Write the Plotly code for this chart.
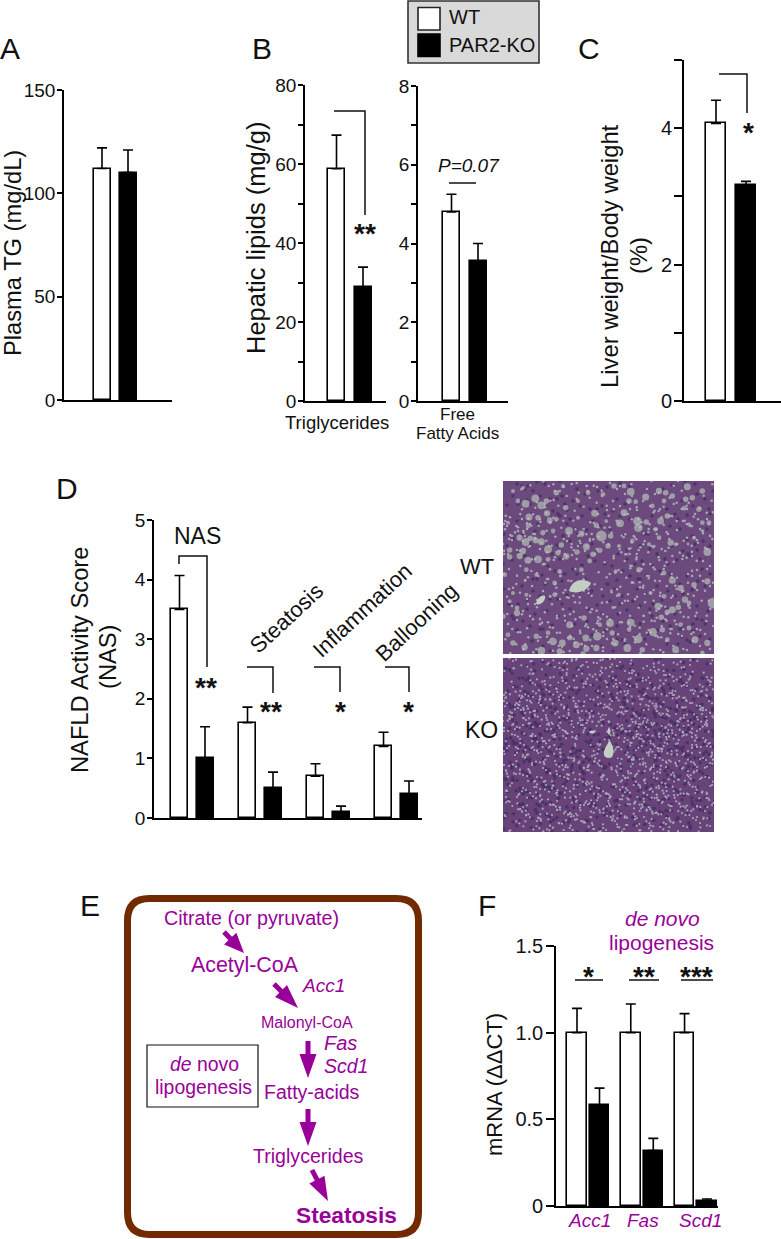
import plotly.graph_objects as go

# ---------- chart values ----------
a_cats = ["Plasma TG"]
a_wt, a_wt_top = [112], [122]
a_ko, a_ko_top = [110], [121]

b1_cats = ["Triglycerides"]
b1_wt, b1_wt_top = [58.8], [67.3]
b1_ko, b1_ko_top = [28.8], [33.9]

b2_cats = ["Free Fatty Acids"]
b2_wt, b2_wt_top = [4.8], [5.25]
b2_ko, b2_ko_top = [3.55], [4.0]

c_cats = ["Liver/Body"]
c_wt, c_wt_top = [4.07], [4.41]
c_ko, c_ko_top = [3.17], [3.22]

d_cats = ["NAS", "Steatosis", "Inflammation", "Ballooning"]
d_wt, d_wt_top = [3.5, 1.6, 0.7, 1.2], [4.07, 1.86, 0.91, 1.44]
d_ko, d_ko_top = [1.0, 0.5, 0.1, 0.4], [1.53, 0.77, 0.2, 0.62]

f_cats = ["Acc1", "Fas", "Scd1"]
f_wt, f_wt_top = [1.0, 1.0, 1.0], [1.14, 1.165, 1.11]
f_ko, f_ko_top = [0.58, 0.32, 0.03], [0.68, 0.39, 0.04]

# Micrograph features (x, y, radius in crop units)
wt_tile_a = [(97,52,9),(115,73,9),(130,60,6),(68,68,9),(45,60,5),(78,108,8),(105,110,6),(132,97,7),(140,118,7),(160,115,5),(198,150,9),(295,165,13),(235,158,7),(275,97,8),(280,133,6),(68,183,9),(50,170,7),(82,172,6),(98,178,7),(115,182,8),(135,205,9),(175,192,6),(250,197,8),(290,208,6),(60,210,7),(20,207,6),(105,235,9),(75,238,8),(50,225,7),(20,228,6),(165,215,6),(190,226,7),(222,213,6),(270,220,6),(315,195,6),(15,125,4),(160,35,6),(188,80,6),(255,35,5),(225,60,4),(120,155,6),(150,150,5),(75,135,5),(135,235,5),(260,240,5),(30,30,4),(60,20,4),(180,15,4),(300,40,5),(310,120,4),(225,110,4)]
wt_tile_b = [(65,32,9),(110,48,8),(150,30,7),(170,35,6),(190,45,6),(235,17,8),(280,30,6),(45,95,8),(85,120,10),(88,140,10),(33,127,9),(112,123,6),(155,120,8),(175,105,6),(60,60,6),(80,62,5),(130,75,5),(230,55,6),(270,85,6),(250,50,6),(165,60,5),(225,82,5),(15,15,6),(45,15,5),(5,165,6),(185,185,7),(295,213,9),(150,170,5),(70,180,5),(240,130,4),(280,125,5),(300,125,5),(200,190,4),(140,145,5),(120,190,4),(255,170,4),(30,195,4)]
wt_tile_c = [(42,135,7),(42,120,5),(0,145,6),(200,170,8),(243,150,6),(150,220,9),(178,225,8),(220,230,8),(248,210,8),(283,205,10),(115,248,9),(65,238,7),(30,225,6),(170,250,7),(250,242,7),(280,240,7),(15,200,5),(100,205,6),(200,210,5),(5,20,5),(70,5,5),(155,80,5),(155,45,5),(290,170,5),(135,195,5),(240,258,6),(100,20,4),(30,75,4),(70,80,4),(170,10,5),(20,100,4),(235,5,5)]
wt_tile_d = [(190,37,8),(165,15,5),(90,5,6),(215,60,7),(255,50,6),(295,40,7),(228,95,7),(147,115,8),(190,125,8),(175,132,6),(208,118,6),(165,85,5),(3,165,9),(65,163,9),(157,148,6),(132,192,9),(88,213,10),(18,225,8),(55,240,9),(160,185,6),(200,245,8),(258,215,8),(295,225,7),(215,170,5),(240,105,5),(20,10,4),(60,185,5),(100,245,6),(10,195,6),(280,255,5),(175,215,5),(240,180,5),(312,105,13),(125,75,4),(30,80,4)]
wt_dark = [(10,15),(30,10),(50,30),(70,20),(90,40),(25,45),(60,55),(110,30),(130,60),(160,40),(190,25),(15,70),(45,85),(85,75),(120,90),(150,85),(180,70),(200,60),(30,110),(70,105),(100,115),(130,120),(165,110),(195,100),(20,140),(55,135),(95,145),(125,150),(160,140),(190,150),(40,165),(110,170),(175,168),(205,130)]
ko_light = [(95,170),(40,135),(45,150),(230,180),(225,195),(400,175),(425,180),(487,210),(618,130),(600,150),(365,240),(370,290),(230,365),(85,270),(120,330),(160,320),(205,300),(275,310),(350,205),(530,215),(555,305),(560,380),(470,300),(440,395),(410,440),(455,420),(520,430),(490,480),(345,460),(280,450),(250,430),(195,470),(150,440),(90,415),(40,490),(540,120),(585,185),(500,105),(440,130),(365,100),(305,140),(250,160),(175,140),(130,95),(90,100),(60,180),(170,210),(120,250),(30,320),(60,390),(330,380),(375,340),(505,350),(600,300),(610,420),(570,480),(430,490),(300,510),(200,510),(100,505),(260,50),(330,60),(420,60),(500,50),(590,80),(170,30),(400,235),(455,265),(180,385),(300,400),(600,240),(420,320)]
ko_dark = [(65,100),(105,130),(180,180),(90,240),(140,280),(30,250),(60,340),(120,380),(170,350),(210,420),(250,300),(410,100),(470,135),(530,70),(560,160),(505,190),(420,240),(465,240),(540,290),(590,340),(515,395),(450,360),(400,300),(360,400),(300,450),(130,470),(50,440),(370,70),(280,100),(200,90),(470,460),(570,440),(420,190),(335,210),(250,250),(60,60),(620,260),(20,180)]
# shifts used to repeat the hand-read flecks so the tissue grain is dense enough
grain_shifts = [(0, 0), (7, 5), (-6, 9), (12, -7), (-11, -5), (4, -12), (17, 8), (-15, 13)]
grain_shifts_fine = [(3, 2), (23, -3), (-3, 21), (31, 17), (-27, 6), (14, 33), (-19, -23), (41, -11), (9, 47), (-37, 29)]

# ---------- page ----------
W, H = 781, 1239
FONT = "Liberation Sans"
INK = "#111111"
PURPLE = "#990099"
BROWN = "#722b00"

fig = go.Figure()
layout = dict(
    width=W, height=H, margin=dict(l=0, r=0, t=0, b=0, pad=0, autoexpand=False),
    paper_bgcolor="white", plot_bgcolor="rgba(0,0,0,0)",
    showlegend=False, bargap=0, barmode="overlay",
    font=dict(family=FONT, color=INK),
    xaxis=dict(domain=[0, 1], range=[0, W], visible=False, fixedrange=True),
    yaxis=dict(domain=[0, 1], range=[H, 0], visible=False, fixedrange=True),
)
shapes, annos = [], []


def text(x, y, s, size, color=INK, angle=0, anchor="center"):
    annos.append(dict(x=x, y=y, xref="x", yref="y", text=s, showarrow=False,
                      xanchor=anchor, yanchor="middle", textangle=angle,
                      font=dict(family=FONT, size=size, color=color),
                      borderpad=0, borderwidth=0))


def line(pts, width=1.5, color=INK):
    d = "M " + " L ".join(f"{x} {y}" for x, y in pts)
    shapes.append(dict(type="path", path=d, xref="x", yref="y",
                       line=dict(color=color, width=width)))


def arrow(x0, y0, x1, y1, stem=5, head_w=17, head_l=24, color=PURPLE):
    dx, dy = x1 - x0, y1 - y0
    n = (dx * dx + dy * dy) ** 0.5
    ux, uy = dx / n, dy / n
    px, py = -uy, ux
    bx, by = x1 - ux * head_l, y1 - uy * head_l
    pts = [(x0 + px * stem / 2, y0 + py * stem / 2),
           (bx + px * stem / 2, by + py * stem / 2),
           (bx + px * head_w / 2, by + py * head_w / 2),
           (x1, y1),
           (bx - px * head_w / 2, by - py * head_w / 2),
           (bx - px * stem / 2, by - py * stem / 2),
           (x0 - px * stem / 2, y0 - py * stem / 2)]
    d = "M " + " L ".join(f"{a:.1f} {b:.1f}" for a, b in pts) + " Z"
    shapes.append(dict(type="path", path=d, xref="x", yref="y",
                       fillcolor=color, line=dict(width=0)))


def panel(n, cats, wt, wt_top, ko, ko_top, rect, first, pitch, step, bar_w,
          ymax, tickvals, ticktext, ticklen=5, tick_size=19, standoff=-2):
    """rect is (left, top, right, bottom) in page pixels; step in bar pitches."""
    L, T, R, B = rect
    xa, ya = f"x{n}", f"y{n}"
    idx = list(range(len(cats)))
    xw = [i * step for i in idx]
    xk = [i * step + 1 for i in idx]
    bw = bar_w / pitch
    for xs, vals, tops, col, name in ((xw, wt, wt_top, "white", "WT"),
                                      (xk, ko, ko_top, "black", "PAR2-KO")):
        fig.add_trace(go.Bar(
            x=xs, y=vals, width=bw, name=name, xaxis=xa, yaxis=ya,
            marker=dict(color=col, line=dict(color="black", width=1.6)),
            error_y=dict(type="data", symmetric=False,
                         array=[t - v for t, v in zip(tops, vals)],
                         arrayminus=[0] * len(vals),
                         color="black", thickness=1.6, width=5),
        ))
    layout[f"xaxis{n}"] = dict(
        domain=[L / W, R / W], range=[(L - first) / pitch, (R - first) / pitch],
        anchor=ya, showline=True, linecolor="black", linewidth=1.6,
        showticklabels=False, ticks="", showgrid=False, zeroline=False, fixedrange=True)
    layout[f"yaxis{n}"] = dict(
        domain=[1 - B / H, 1 - T / H], range=[0, ymax],
        anchor=xa, showline=True, linecolor="black", linewidth=1.6,
        tickmode="array", tickvals=tickvals, ticktext=ticktext,
        ticks="outside", ticklen=ticklen, tickwidth=1.6, tickcolor="black",
        ticklabelstandoff=standoff,
        tickfont=dict(family=FONT, size=tick_size, color=INK),
        showgrid=False, zeroline=False, fixedrange=True)


def micro_axes(n, box, fill):
    L, T, R, B = box
    layout[f"xaxis{n}"] = dict(domain=[L / W, R / W], range=[L, R], anchor=f"y{n}",
                               visible=False, fixedrange=True)
    layout[f"yaxis{n}"] = dict(domain=[1 - B / H, 1 - T / H], range=[B, T], anchor=f"x{n}",
                               visible=False, fixedrange=True)
    shapes.append(dict(type="rect", xref=f"x{n}", yref=f"y{n}", layer="below", x0=L, y0=T,
                       x1=R, y1=B, fillcolor=fill, line=dict(width=0)))


def grain(n, box, pts, color, size, name, shifts=grain_shifts):
    L, T, R, B = box
    w, h = R - L, B - T
    xs, ys = [], []
    for sx, sy in shifts:
        for a, b in pts:
            xs.append(L + (a + sx) % w)
            ys.append(T + (b + sy) % h)
    fig.add_trace(go.Scatter(x=xs, y=ys, mode="markers", xaxis=f"x{n}", yaxis=f"y{n}", name=name,
                             marker=dict(color=color, size=size, line=dict(width=0)),
                             hoverinfo="skip"))


# ---------- bar panels ----------
panel(2, a_cats, a_wt, a_wt_top, a_ko, a_ko_top, (64, 90, 172, 400), 102, 26, 2.5, 17,
      150, [0, 50, 100, 150], ["0", "50", "100", "150"])
panel(3, b1_cats, b1_wt, b1_wt_top, b1_ko, b1_ko_top, (305, 85, 386, 401), 336.5, 26.5, 2.5, 17,
      80, [0, 10, 20, 30, 40, 50, 60, 70, 80], ["0", "", "20", "", "40", "", "60", "", "80"])
panel(4, b2_cats, b2_wt, b2_wt_top, b2_ko, b2_ko_top, (418, 86, 508, 401), 451.5, 26.5, 2.5, 17,
      8, list(range(9)), ["0", "", "2", "", "4", "", "6", "", "8"])
panel(5, c_cats, c_wt, c_wt_top, c_ko, c_ko_top, (684, 60, 781, 401), 716, 30, 2.5, 20,
      5, [0, 1, 2, 3, 4, 5], ["0", "", "2", "", "4", ""], ticklen=8, tick_size=20)
panel(6, d_cats, d_wt, d_wt_top, d_ko, d_ko_top, (154, 520, 422, 818), 179.5, 25.5, 2.667, 17,
      5, [0, 1, 2, 3, 4, 5], ["0", "1", "2", "3", "4", "5"])
panel(7, f_cats, f_wt, f_wt_top, f_ko, f_ko_top, (556, 946, 718, 1206), 577, 22.5, 2.39, 19.5,
      1.5, [0, 0.5, 1.0, 1.5], ["0", "0.5", "1.0", "1.5"], ticklen=8, tick_size=20, standoff=-1)

# ---------- micrographs ----------
WT_BOX = (503, 481, 714, 654)
KO_BOX = (503, 658, 714, 832)
micro_axes(8, WT_BOX, "#6c4a7d")
micro_axes(9, KO_BOX, "#68437a")

CELL = "#b5c0b7"
grain(8, WT_BOX, wt_dark, "#4d3468", 3.5, "WT nuclei")
grain(8, WT_BOX, [(a / 3, b / 3) for a, b in ko_light], "#a7a6b3", 2.5, "WT gaps")
dx, dy, ds = [], [], []
for tile, ox, oy in ((wt_tile_a, 503, 481), (wt_tile_b, 609, 481),
                     (wt_tile_c, 503, 568), (wt_tile_d, 609, 568)):
    for a, b, r in tile:
        dx.append(ox + a / 3)
        dy.append(oy + b / 3)
        ds.append(r * 0.75 + 1)
fig.add_trace(go.Scatter(x=dx, y=dy, mode="markers", xaxis="x8", yaxis="y8", name="WT droplets",
                         marker=dict(color=CELL, size=ds, line=dict(width=0)), hoverinfo="skip"))
grain(9, KO_BOX, [(a / 3, b / 3) for a, b in ko_dark], "#4b3167", 3.5, "KO nuclei", grain_shifts + grain_shifts_fine)
grain(9, KO_BOX, [(a / 3, b / 3) for a, b in ko_light], "#aaa8b6", 2.2, "KO gaps", grain_shifts + grain_shifts_fine)
for p in ("M 569 591 C 572 578 585 578 591 583 C 588 590 578 595 569 591 Z",
          "M 536 604 C 537 597 543 594 545 596 C 546 600 541 606 536 604 Z",
          "M 609.5 740.5 C 613 745 615 753 612 757 C 609 759 605 758 604 755 C 603 750 607 745 609.5 740.5 Z",
          "M 609 727 C 611 730 611 733 609 735 C 607 733 607 730 609 727 Z",
          "M 589 732 C 591 730 594 730 595 732 C 594 734 591 734 589 732 Z"):
    shapes.append(dict(type="path", path=p, xref="x", yref="y", fillcolor="#c3cec5", line=dict(width=0)))

# ---------- panel letters ----------
for s, x, y in (("A", 10, 48), ("B", 262, 48), ("C", 589, 48),
                ("D", 67, 488), ("E", 90, 905), ("F", 487, 905)):
    text(x, y, s, 30)

# ---------- legend ----------
shapes.append(dict(type="rect", xref="x", yref="y", x0=408, y0=1, x1=539, y1=63,
                   fillcolor="#d9d9d9", line=dict(color="#333333", width=1.6)))
shapes.append(dict(type="rect", xref="x", yref="y", x0=418, y0=7.5, x1=440, y1=30,
                   fillcolor="white", line=dict(color="#222222", width=1.6)))
shapes.append(dict(type="rect", xref="x", yref="y", x0=418, y0=34, x1=440, y1=56.5,
                   fillcolor="black", line=dict(color="black", width=1.6)))
text(449, 17, "WT", 20, anchor="left")
text(449, 45, "PAR2-KO", 20, anchor="left")

# ---------- titles ----------
text(13, 253, "Plasma TG (mg/dL)", 23.7, angle=-90)
text(256, 238, "Hepatic lipids (mg/g)", 25.5, angle=-90)
text(337, 422, "Triglycerides", 18.5)
text(457, 414, "Free", 17)
text(457, 433, "Fatty Acids", 17)
text(609, 256, "Liver weight/Body weight", 23.8, angle=-90)
text(638, 256, "(%)", 23.8, angle=-90)
text(80, 660, "NAFLD Activity Score", 23.7, angle=-90)
text(108, 657, "(NAS)", 23.7, angle=-90)
text(494, 1085, "mRNA (ΔΔCT)", 22, angle=-90)
text(469, 165, "<i>P=0.07</i>", 19)
text(477, 566, "WT", 22)
text(481, 730, "KO", 23)
text(197, 536, "NAS", 23)
text(286, 618, "Steatosis", 22, angle=-43)
text(362, 610, "Inflammation", 22, angle=-43)
text(416, 622, "Ballooning", 22, angle=-43)

# ---------- significance marks ----------
STAR = 28
OFF = 4
line([(334, 111), (365, 111), (365, 215)])
text(365, 229 + OFF, "<b>**</b>", STAR)
line([(449, 183), (476, 183)])
line([(719, 74), (747, 74), (747, 113)])
text(748, 128 + OFF, "<b>*</b>", STAR)
line([(179, 564), (179, 556), (207, 556), (207, 667)])
text(206, 683 + OFF, "<b>**</b>", STAR)
line([(247, 667), (273, 667), (273, 693)])
text(271, 707 + OFF, "<b>**</b>", STAR)
line([(314, 667), (340, 667), (340, 692)])
text(340, 707 + OFF, "<b>*</b>", STAR)
line([(385, 667), (409, 667), (409, 692)])
text(408, 707 + OFF, "<b>*</b>", STAR)
line([(575, 980), (603, 980)])
line([(629, 980), (659, 980)])
line([(681, 980), (713, 980)])
text(588, 972 + OFF, "<b>*</b>", STAR)
text(644, 972 + OFF, "<b>**</b>", STAR)
text(696, 972 + OFF, "<b>***</b>", STAR)

# ---------- panel F labels ----------
text(589, 1220, "<i>Acc1</i>", 19, PURPLE)
text(643, 1220, "<i>Fas</i>", 19, PURPLE)
text(700, 1220, "<i>Scd1</i>", 19, PURPLE)
text(662, 918, "<i>de novo</i>", 21, PURPLE)
text(661, 942, "lipogenesis", 21, PURPLE)

# ---------- panel E pathway ----------
l, t, r, b, c = 127.5, 898.5, 418.5, 1234.5, 22
shapes.append(dict(
    type="path", xref="x", yref="y",
    path=(f"M {l+c} {t} L {r-c} {t} Q {r} {t} {r} {t+c} L {r} {b-c} Q {r} {b} {r-c} {b} "
          f"L {l+c} {b} Q {l} {b} {l} {b-c} L {l} {t+c} Q {l} {t} {l+c} {t} Z"),
    line=dict(color=BROWN, width=7)))
shapes.append(dict(type="rect", xref="x", yref="y", x0=147, y0=1045, x1=258, y1=1107,
                   line=dict(color="#111111", width=1.2)))
arrow(224, 932, 244, 953, head_l=20)
arrow(274, 984, 298, 1008)
arrow(308, 1041, 308, 1078)
arrow(308, 1109, 308, 1146)
arrow(312, 1170, 328, 1201)
text(251, 918, "Citrate (or pyruvate)", 19.7, PURPLE)
text(245, 965, "Acetyl-CoA", 21.4, PURPLE)
text(323, 985, "<i>Acc1</i>", 19, PURPLE)
text(307, 1022, "Malonyl-CoA", 16, PURPLE)
text(340, 1043, "<i>Fas</i>", 20, PURPLE)
text(346, 1066, "<i>Scd1</i>", 19.5, PURPLE)
text(312, 1092, "Fatty-acids", 19.5, PURPLE)
text(308, 1156, "Triglycerides", 19.6, PURPLE)
text(346, 1215, "<b>Steatosis</b>", 22.7, PURPLE)
text(204, 1064, "<i>de</i> novo", 19.4, PURPLE)
text(203, 1087, "lipogenesis", 19.4, PURPLE)

layout["shapes"] = shapes
layout["annotations"] = annos
fig.update_layout(**layout)
fig.write_html("out.html", config={"displayModeBar": False},
               post_script="document.body.style.margin='0';document.body.style.overflow='hidden';")
